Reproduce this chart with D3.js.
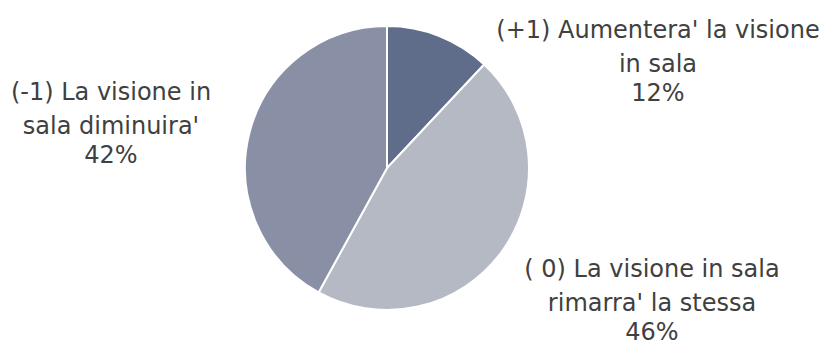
<!DOCTYPE html>
<html><head><meta charset="utf-8">
<script src="https://cdn.jsdelivr.net/npm/d3@7"></script>
<style>body{margin:0;background:#fff}svg{display:block}</style>
</head><body>
<svg id="c" width="827" height="345"></svg>
<script>
const categories = ["(+1) Aumentera' la visione in sala", "( 0) La visione in sala rimarra' la stessa", "(-1) La visione in sala diminuira'"];
const values = [12, 46, 42];
const colors = ["#5f6d8b", "#b5b9c4", "#8990a5"];
const labelLines = [["(+1) Aumentera' la visione", "in sala", "12%"], ["( 0) La visione in sala", "rimarra' la stessa", "46%"], ["(-1) La visione in", "sala diminuira'", "42%"]];
const labelPos = [[658, 38], [652, 277], [111, 100]];
const lineOffsets = [0, 34, 63];

const svg = d3.select("#c");
const cx = 387, cy = 168, r = 142;
const pie = d3.pie().sort(null).value(d => d)(values);
const arc = d3.arc().innerRadius(0).outerRadius(r);
const g = svg.append("g").attr("transform", `translate(${cx},${cy})`);
g.selectAll("path").data(pie).join("path")
  .attr("d", arc).attr("fill", (d, i) => colors[i])
  .attr("stroke", "#fff").attr("stroke-width", 2);

labelLines.forEach((lines, i) => {
  const t = svg.append("text").attr("text-anchor", "middle")
    .attr("font-family", "'DejaVu Sans', sans-serif").attr("font-size", 24)
    .attr("fill", "#404040");
  lines.forEach((l, j) => t.append("tspan").attr("x", labelPos[i][0]).attr("y", labelPos[i][1] + lineOffsets[j]).text(l));
});
</script>
</body></html>
